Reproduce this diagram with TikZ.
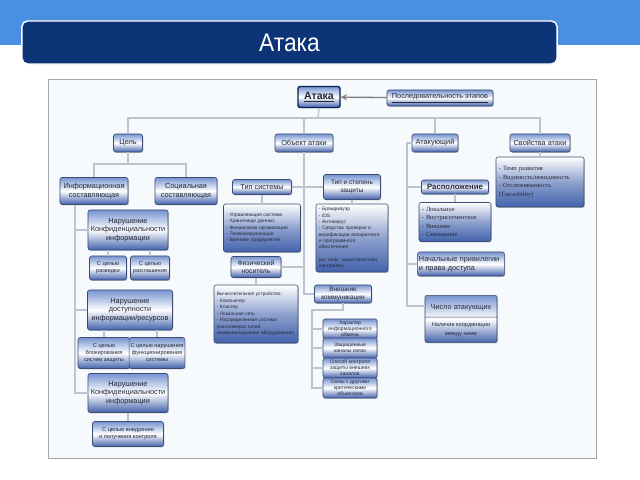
\documentclass[tikz,border=0pt]{standalone}
\usepackage{graphicx}
\usepackage{fontspec}
\setmainfont{Liberation Sans}
\newfontfamily\serifru{Liberation Serif}
\usetikzlibrary{shapes.multipart,positioning,arrows,calc,shadows}
\definecolor{bandblue}{RGB}{74,144,226}
\definecolor{navy}{RGB}{12,52,118}
\definecolor{framebg}{RGB}{247,250,253}
\definecolor{framegray}{RGB}{165,165,165}
\definecolor{bxline}{RGB}{60,75,115}
\definecolor{bxtop}{RGB}{118,148,208}
\definecolor{bxbot}{RGB}{66,98,172}
\definecolor{lnc}{RGB}{188,196,206}
\definecolor{txtc}{RGB}{35,40,55}
\tikzset{
    hdr/.style={
        draw=white,line width=1pt,fill=navy,rounded corners=4pt,text=white,
        minimum width=13.375cm,minimum height=1.075cm,font=\fontsize{18}{20}\selectfont
    },
    bx/.style={
        draw=bxline,rounded corners=1.5pt,top color=bxtop,bottom color=bxbot,middle color=white,
        drop shadow={opacity=.4,shadow xshift=.6pt,shadow yshift=-.6pt},
        align=center,text=txtc,inner sep=1pt,font=\fontsize{5.2}{6.2}\selectfont
    },
    smallbx/.style={bx,font=\fontsize{4}{5}\selectfont},
    extbx/.style={bx,minimum width=1.35cm,minimum height=.5cm,font=\fontsize{3.6}{4.3}\selectfont},
    listbx/.style={
        bx,top color=white,bottom color=bxbot,middle color=bxbot!60,
        align=left,inner sep=2pt,font=\fontsize{3.5}{4.5}\selectfont
    },
    conn/.style={draw=lnc,line width=1pt}
}
\begin{document}
\begin{tikzpicture}[x=0.025cm,y=-0.025cm,>=stealth]
\useasboundingbox (0,0) rectangle (640,480);
\fill[bandblue] (0,0) rectangle (640,45);
\node[hdr] (title) at (289.5,42.5) {\scalebox{0.9}[1]{Атака}};
\draw[framegray,fill=framebg] (48,79) rectangle (596,458);

\node[bx,line width=1pt,draw=navy!70!black,minimum width=1.05cm,minimum height=.525cm,font=\fontsize{7.5}{8}\selectfont\bfseries] (ataka) at (319,97) {\underline{Атака}};
\node[bx,minimum width=2.65cm,minimum height=.4cm] (seq) at (440,98) {\underline{Последовательность этапов}};
\node[bx,minimum width=.725cm,minimum height=.45cm] (cel) at (128,143) {Цель};
\node[bx,minimum width=1.45cm,minimum height=.45cm] (obj) at (304,143) {Объект атаки};
\node[bx,minimum width=1.15cm,minimum height=.45cm] (atk) at (435,143) {Атакующий};
\node[bx,minimum width=1.5cm,minimum height=.45cm] (props) at (540,143) {Свойства атаки};

\node[bx,minimum width=1.7cm,minimum height=.675cm] (infoc) at (94,191) {Информационная\\составляющая};
\node[bx,minimum width=1.55cm,minimum height=.675cm] (socc) at (186,191) {Социальная\\составляющая};
\node[bx,minimum width=2cm,minimum height=1cm] (nar1) at (128,230) {Нарушение\\Конфиденциальности\\информации};
\node[smallbx,minimum width=.925cm,minimum height=.6cm] (razv) at (108,268) {С целью\\разведки};
\node[smallbx,minimum width=.975cm,minimum height=.6cm] (razgl) at (150,268) {С целью\\разглашения};
\node[bx,minimum width=2.125cm,minimum height=1cm] (nar2) at (130,310) {Нарушение\\доступности\\информации/ресурсов};
\node[smallbx,minimum width=1.3cm,minimum height=.775cm] (blok) at (104,353) {С целью\\блокирования\\систем защиты};
\node[smallbx,minimum width=1.325cm,minimum height=.775cm] (narf) at (157,353) {С целью нарушения\\функционирования\\системы};
\node[bx,minimum width=2cm,minimum height=.975cm] (nar3) at (128,393) {Нарушение\\Конфиденциальности\\информации};
\node[smallbx,minimum width=1.775cm,minimum height=.625cm] (vnedr) at (128,434) {С целью внедрения\\и получения контроля};

\node[bx,minimum width=1.475cm,minimum height=.375cm] (tipsys) at (262,187) {Тип системы};
\node[bx,minimum width=1.425cm,minimum height=.625cm,font=\fontsize{4.6}{5.6}\selectfont] (tipzash) at (352,187) {Тип и степень\\защиты};
\node[listbx,text width=1.785cm,minimum height=1.2cm] (tiplist) at (262,228) {- Управляющая система\\- Хранилище данных\\- Финансовая организация\\- Телекоммуникации\\- Военное предприятие};
\node[listbx,text width=1.66cm,minimum height=1.7cm] (zashlist) at (352,238) {- Брандмауэр\\- IDS\\- Антивирус\\- Средства проверки и\\верификации аппаратного\\и программного обеспечения\\-\\(их типы, характеристики,\\настройки)};
\node[bx,minimum width=1.25cm,minimum height=.525cm,font=\fontsize{4.8}{5.8}\selectfont] (fiz) at (256,267) {Физический\\носитель};
\node[listbx,text width=1.96cm,minimum height=1.45cm,font=\fontsize{3.4}{4.6}\selectfont] (fizlist) at (256,314) {Вычислительное устройство:\\- Компьютер\\- Кластер\\- Локальная сеть\\- Распределенная система\\(конгломерат сетей,\\коммуникационное оборудование)};
\node[bx,minimum width=1.425cm,minimum height=.45cm,font=\fontsize{4.6}{5.6}\selectfont] (vneshn) at (343,294) {Внешние\\коммуникации};
\node[extbx] (ext1) at (350,329) {Характер\\информационного\\обмена};
\node[extbx] (ext2) at (350,348) {Защищенные\\каналы связи};
\node[extbx] (ext3) at (350,368) {Способ контроля\\защиты внешних\\каналов};
\node[extbx] (ext4) at (350,388) {Связь с другими\\критическими\\объектами};

\node[bx,minimum width=1.675cm,minimum height=.35cm,font=\fontsize{5.5}{6.5}\selectfont\bfseries] (raspol) at (455,187) {Расположение};
\node[listbx,text width=1.66cm,minimum height=.975cm,font=\serifru\fontsize{4.5}{6}\selectfont] (raspollist) at (455,222) {- Локальное\\- Внутрисегментное\\- Внешнее\\- Смешанное};
\node[bx,text width=2.1cm,minimum height=.6cm,align=left] (priv) at (461,264) {Начальные привилегии\\и права доступа};
\node[bx,rectangle split,rectangle split parts=2,minimum width=1.8cm,inner ysep=4pt,anchor=north] (chislo) at (461,295) {\rule{0pt}{6pt}Число атакующих\nodepart{two}\fontsize{4}{5}\selectfont Наличие координации\\\fontsize{4}{5}\selectfont между ними};
\node[listbx,text width=2.06cm,minimum height=1.25cm,font=\serifru\fontsize{4.5}{6.2}\selectfont] (propslist) at (540,182) {- Темп развития\\- Видимость/невидимость\\- Отслеживаемость\\(Traceability)};

\coordinate (bus) at (318,118);
\coordinate (cbus) at (128,164);
\coordinate (isp) at (75,205);
\coordinate (vk) at (312,310);
\coordinate (asp) at (407,143);

\draw[conn,->,draw=gray] (seq) -- (ataka);
\draw[conn] (ataka.south) -- (bus);
\draw[conn] (cel.north) |- (bus) -| (props.north);
\draw[conn] (obj.north) -- (obj.north |- bus);
\draw[conn] (atk.north) -- (atk.north |- bus);

\draw[conn] (cel.south) -- (cbus);
\draw[conn] (infoc.north) |- (cbus) -| (socc.north);
\draw[conn] (infoc.south -| isp) |- (nar3.west);
\draw[conn] (isp |- nar1.west) -- (nar1.west);
\draw[conn] (isp |- nar2.west) -- (nar2.west);
\draw[conn] (razv.north) -- (razv.north |- nar1.south);
\draw[conn] (razgl.north) -- (razgl.north |- nar1.south);
\draw[conn] (blok.north) -- (blok.north |- nar2.south);
\draw[conn] (narf.north) -- (narf.north |- nar2.south);
\draw[conn] (vnedr) -- (nar3);

\draw[conn] (obj.south) |- (vneshn.west);
\draw[conn] (tipsys.east) -- (tipzash.west);
\draw[conn] (fiz.east) -- (fiz.east -| obj.south);
\draw[conn] (tipsys) -- (tiplist);
\draw[conn] (tipzash) -- (zashlist);
\draw[conn] (fiz) -- (fizlist);
\draw[conn] (vneshn.south) |- (vk) |- (ext4.west);
\draw[conn] (vk |- ext1.west) -- (ext1.west);
\draw[conn] (vk |- ext2.west) -- (ext2.west);
\draw[conn] (vk |- ext3.west) -- (ext3.west);

\draw[conn] (atk.west) -- (asp) |- ([yshift=-.275cm]chislo.north west);
\draw[conn] (asp |- raspol.west) -- (raspol.west);
\draw[conn] (asp |- priv.west) -- (priv.west);
\draw[conn] (raspol) -- (raspollist);
\draw[conn] (props) -- (propslist);
\end{tikzpicture}
\end{document}
